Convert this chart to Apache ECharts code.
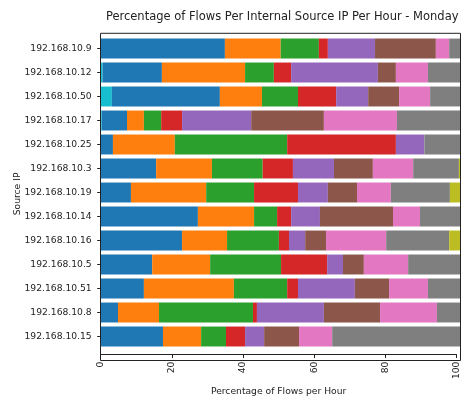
<!DOCTYPE html>
<html>
<head>
<meta charset="utf-8">
<script src="https://cdn.jsdelivr.net/npm/echarts@6/dist/echarts.min.js"></script>
<style>
  html, body { margin: 0; padding: 0; background: #fff; }
  #chart { width: 461px; height: 401px; }
</style>
</head>
<body>
<div id="chart"></div>
<script>
// Source IPs, listed top to bottom
const ips = ['192.168.10.9', '192.168.10.12', '192.168.10.50', '192.168.10.17', '192.168.10.25',
  '192.168.10.3', '192.168.10.19', '192.168.10.14', '192.168.10.16', '192.168.10.5',
  '192.168.10.51', '192.168.10.8', '192.168.10.15'];

// Share of each IP's flows (%) falling in each hourly slot, one array per slot
const slotA = [0, 0.5, 3.1, 0.3, 0, 0, 0, 0, 0, 0, 0, 0, 0];
const slotB = [34.5, 16.5, 30.0, 7.0, 3.4, 15.4, 8.4, 27.0, 22.6, 14.3, 12.0, 4.8, 17.3];
const slotC = [15.5, 23.1, 11.7, 4.7, 17.2, 15.5, 20.9, 15.6, 12.5, 16.1, 25.0, 11.4, 10.6];
const slotD = [10.6, 8.0, 10.0, 4.8, 31.2, 14.1, 13.3, 6.4, 14.4, 19.7, 14.8, 26.1, 6.9];
const slotE = [2.5, 4.8, 10.6, 5.8, 30.2, 8.4, 12.2, 3.9, 2.8, 12.8, 3.0, 1.1, 5.3];
const slotF = [13.1, 24.1, 8.9, 19.2, 7.9, 11.4, 8.3, 8.0, 4.5, 4.4, 15.8, 18.6, 5.3];
const slotG = [16.9, 5.0, 8.6, 20.2, 0, 10.8, 8.1, 20.3, 5.8, 5.8, 9.5, 15.6, 9.7];
const slotH = [3.7, 8.9, 8.6, 20.3, 0, 11.2, 9.4, 7.5, 16.7, 12.3, 10.8, 15.8, 9.2];
const slotI = [3.2, 9.1, 8.5, 17.7, 10.1, 12.7, 16.4, 11.3, 17.5, 14.6, 9.1, 6.6, 35.7];
const slotJ = [0, 0, 0, 0, 0, 0.5, 3.0, 0, 3.2, 0, 0, 0, 0];

const slots = [slotA, slotB, slotC, slotD, slotE, slotF, slotG, slotH, slotI, slotJ];
const slotColors = ['#17becf', '#1f77b4', '#ff7f0e', '#2ca02c', '#d62728',
  '#9467bd', '#8c564b', '#e377c2', '#7f7f7f', '#bcbd22'];

const xTicks = [0, 20, 40, 60, 80, 100];

const FONT = 'DejaVu Sans';
const INK = '#222';

const chart = echarts.init(document.getElementById('chart'), null, { renderer: 'canvas' });

const plotLeft = 100.7, plotTop = 33.3, plotW = 360, plotH = 327.2;
const band = 24;

chart.setOption({
  animation: false,
  title: {
    text: 'Percentage of Flows Per Internal Source IP Per Hour - Monday',
    left: plotLeft + plotW / 2 - 3.5, top: 6, textAlign: 'center',
    textStyle: { fontFamily: FONT, fontSize: 11.5, fontWeight: 'normal', color: INK }
  },
  grid: [
    // frame + x axis
    { left: plotLeft, top: plotTop, width: plotW, height: plotH, show: false },
    // bar bands
    { left: plotLeft, top: plotTop + 3.2, width: plotW, height: band * ips.length, show: false }
  ],
  xAxis: [
    {
      gridIndex: 0, type: 'value', min: 0, max: 100, interval: 20,
      name: 'Percentage of Flows per Hour', nameLocation: 'middle', nameGap: 31,
      nameTextStyle: { fontFamily: FONT, fontSize: 9.2, color: INK },
      axisLine: { show: true, lineStyle: { color: INK, width: 1 } },
      axisTick: { show: true, length: 3.5, lineStyle: { color: INK } },
      axisLabel: {
        rotate: 90, margin: 7, fontFamily: FONT, fontSize: 9.2, color: INK,
        formatter: v => xTicks.includes(v) ? String(v) : ''
      },
      splitLine: { show: false }
    },
    {
      gridIndex: 1, type: 'value', min: 0, max: 100, show: false
    }
  ],
  yAxis: [
    {
      gridIndex: 0, type: 'value', min: 0, max: 1,
      name: 'Source IP', nameLocation: 'middle', nameGap: 79, nameRotate: 90,
      nameTextStyle: { fontFamily: FONT, fontSize: 9.2, color: INK },
      axisLine: { show: false }, axisTick: { show: false },
      axisLabel: { show: false }, splitLine: { show: false }
    },
    {
      gridIndex: 1, type: 'category', data: ips, inverse: true,
      axisLine: { show: false },
      axisTick: { show: true, alignWithLabel: true, length: 3.5, lineStyle: { color: INK } },
      axisLabel: { margin: 9, fontFamily: FONT, fontSize: 9.2, color: INK },
      splitLine: { show: false }
    }
  ],
  series: slots.map((vals, i) => ({
    name: 'slot' + i,
    type: 'bar',
    stack: 'flows',
    xAxisIndex: 1, yAxisIndex: 1,
    barCategoryGap: '17%',
    data: vals,
    itemStyle: { color: slotColors[i] },
    emphasis: { disabled: true }
  })),
  graphic: [{
    type: 'rect', z: 100, silent: true,
    shape: { x: plotLeft - 0.2, y: plotTop, width: plotW, height: plotH },
    style: { fill: 'none', stroke: INK, lineWidth: 1 }
  }]
});
</script>
</body>
</html>
